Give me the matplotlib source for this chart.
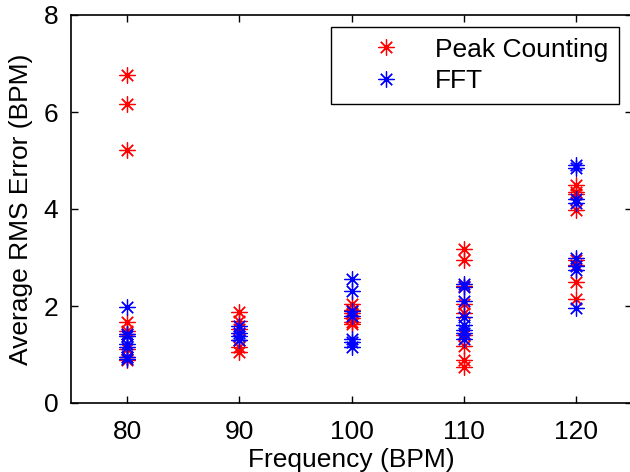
import matplotlib
matplotlib.use("Agg")
import matplotlib.pyplot as plt

plt.rcParams['font.family'] = ['Liberation Sans', 'DejaVu Sans']

frequencies = [80, 90, 100, 110, 120]

peak_80 = [6.76, 6.16, 5.22, 1.66, 1.48, 1.42, 1.12, 0.95, 0.88]
peak_90 = [1.88, 1.70, 1.52, 1.30, 1.15, 1.05]
peak_100 = [2.05, 1.92, 1.85, 1.75, 1.68, 1.62]
peak_110 = [3.18, 2.95, 2.42, 2.05, 1.85, 1.40, 1.18, 0.88, 0.75]
peak_120 = [4.50, 4.36, 4.30, 3.98, 2.95, 2.85, 2.50, 2.15]

fft_80 = [1.97, 1.42, 1.38, 1.22, 1.15, 0.95, 0.90]
fft_90 = [1.58, 1.45, 1.38, 1.30]
fft_100 = [2.55, 2.30, 1.90, 1.80, 1.32, 1.25, 1.15]
fft_110 = [2.45, 2.40, 2.10, 1.78, 1.60, 1.50, 1.45, 1.32]
fft_120 = [4.90, 4.84, 4.20, 4.12, 3.00, 2.82, 2.75, 1.95]

peak_values = [peak_80, peak_90, peak_100, peak_110, peak_120]
fft_values = [fft_80, fft_90, fft_100, fft_110, fft_120]

xticks = [80, 90, 100, 110, 120]
yticks = [0, 2, 4, 6, 8]

fig = plt.figure(figsize=(6.30, 4.72), dpi=100)
ax = fig.add_axes([71/630, 1 - 403/472, (632 - 71)/630, (403 - 15)/472])

marker = (8, 2, 0)
ms = 11.5
px, py = [], []
for f, vals in zip(frequencies, peak_values):
    px += [f] * len(vals)
    py += vals
fx, fy = [], []
for f, vals in zip(frequencies, fft_values):
    fx += [f] * len(vals)
    fy += vals

ax.plot(px, py, linestyle='none', marker=marker, markersize=ms,
        color='#ff0000', markeredgewidth=0.9, label='Peak Counting')
ax.plot(fx, fy, linestyle='none', marker=marker, markersize=ms,
        color='#0000ff', markeredgewidth=0.9, label='FFT')

ax.set_xlim(75, 125)
ax.set_ylim(0, 8)
ax.set_xticks(xticks)
ax.set_yticks(yticks)
ax.tick_params(axis='x', direction='in', length=5, width=1, labelsize=19,
               top=True, pad=12)
ax.tick_params(axis='y', direction='in', length=5, width=1, labelsize=19,
               right=True, pad=9)
for s in ax.spines.values():
    s.set_linewidth(1.2)
    s.set_color('black')

ax.set_xlabel('Frequency (BPM)', fontsize=19, labelpad=3)
ax.set_ylabel('Average RMS Error (BPM)', fontsize=19, labelpad=8)

leg = ax.legend(loc='upper right', bbox_to_anchor=(619/630, 1 - 27/472),
                bbox_transform=fig.transFigure, fontsize=19, fancybox=False,
                framealpha=1, edgecolor='black', borderpad=0.4,
                handlelength=3.4, handletextpad=0.15, labelspacing=0.3,
                borderaxespad=0)
leg.get_frame().set_linewidth(1.0)

fig.savefig('out.png', dpi=100)
